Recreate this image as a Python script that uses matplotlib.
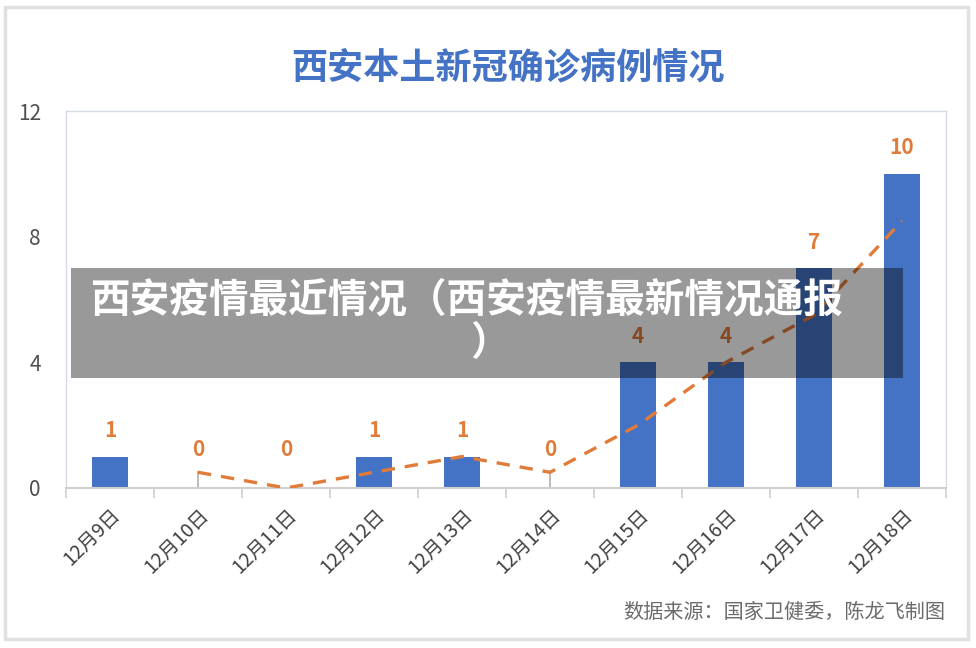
import numpy as np
import matplotlib
matplotlib.use("Agg")
import matplotlib.pyplot as plt
from matplotlib.patches import Rectangle

plt.rcParams['font.family'] = ['Noto Sans CJK SC', 'DejaVu Sans']

# data
dates = ['12月9日', '12月10日', '12月11日', '12月12日', '12月13日',
         '12月14日', '12月15日', '12月16日', '12月17日', '12月18日']
cases = [1, 0, 0, 1, 1, 0, 4, 4, 7, 10]
trend_dates = dates[1:]
trend_vals = [0.5, 0, 0.5, 1, 0.5, 2, 4, 5.5, 8.5]

blue = '#4472c4'
orange = '#e07b39'

fig = plt.figure(figsize=(9.76, 6.48), dpi=100)
ax = fig.add_axes([66 / 976, 160 / 648, 880 / 976, 377 / 648])

x = np.arange(len(dates))
ax.bar(x, cases, width=0.41, color=blue, zorder=2)

# small grey leader lines on the zero days
idx = {d: i for i, d in enumerate(dates)}
for d, v in zip(trend_dates, trend_vals):
    i = idx[d]
    if cases[i] == 0 and v > 0:
        ax.plot([i, i], [0, v], color='#b0b0b0', lw=1.2, zorder=1)

tx = [idx[d] for d in trend_dates]
ax.plot(tx, trend_vals, color=orange, lw=2.4, ls=(0, (4, 3)), zorder=3)

for i, v in enumerate(cases):
    off = 26 if v > 0 else 38
    ax.annotate(str(v), (i, v), xytext=(0, off * 0.72), textcoords='offset points',
                ha='center', va='center', color=orange, fontsize=15, fontweight='bold')

ax.set_xlim(-0.5, len(dates) - 0.5)
ax.set_ylim(0, 12)
ax.set_yticks([0, 4, 8, 12])
ax.tick_params(axis='y', length=0, labelsize=15, labelcolor='#505050', pad=18)
ax.set_xticks(x)
ax.set_xticklabels(dates, rotation=45, ha='right', rotation_mode='anchor',
                   fontsize=14, color='#404040')
ax.tick_params(axis='x', length=0, pad=12)
# boundary ticks
ax.set_xticks(np.arange(-0.5, len(dates)), minor=True)
ax.tick_params(axis='x', which='minor', length=7, color='#d0d0d0', width=1.2)

for s in ax.spines.values():
    s.set_color('#d6dce4')
    s.set_linewidth(1)
ax.spines['bottom'].set_color('#d0d0d0')
ax.spines['bottom'].set_linewidth(1.5)

fig.text(508 / 976, 1 - 68 / 648, '西安本土新冠确诊病例情况', ha='center', va='center',
         fontsize=26, fontweight='bold', color=blue)
fig.text(945 / 976, 1 - 612 / 648, '数据来源：国家卫健委，陈龙飞制图', ha='right', va='center',
         fontsize=14.5, color='#6b6b6b')

# outer frame
fig.patches.append(Rectangle((5 / 976, 9 / 648), 963 / 976, 632 / 648, transform=fig.transFigure,
                             fill=False, edgecolor='#e0e0e0', lw=2.5))

# overlay banner
fig.patches.append(Rectangle((71 / 976, 270 / 648), 832 / 976, 110 / 648, transform=fig.transFigure,
                             facecolor='black', alpha=0.4, edgecolor='none', zorder=10))
fig.text(90 / 976, 1 - 300 / 648, '西安疫情最近情况（西安疫情最新情况通报', ha='left', va='center',
         fontsize=28.5, fontweight='heavy', color='white', zorder=11)
fig.text(470 / 976, 1 - 343 / 648, '）', ha='left', va='center',
         fontsize=28.5, fontweight='heavy', color='white', zorder=11)

fig.savefig('out.png', dpi=100)
